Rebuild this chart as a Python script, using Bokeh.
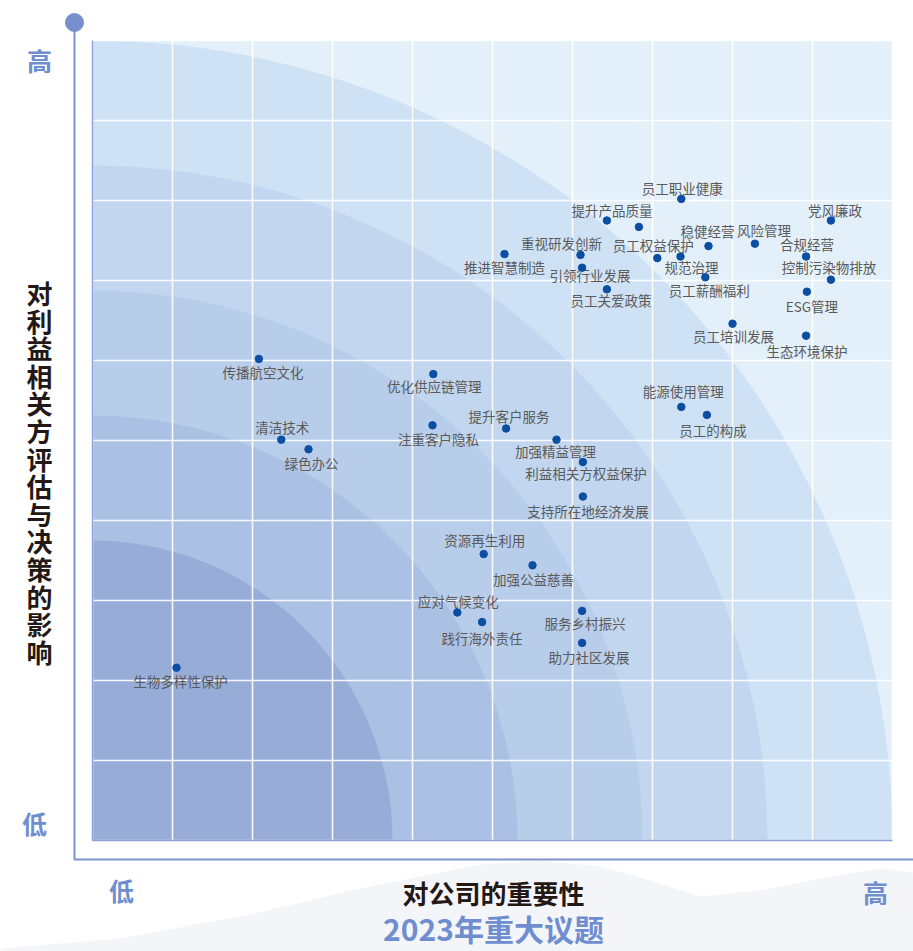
import math
from bokeh.plotting import figure
from bokeh.models import Range1d, ColumnDataSource
from bokeh.embed import file_html
from bokeh.resources import INLINE
from bokeh.core.properties import value

# ---------------- data ----------------
topics = [
    "员工职业健康", "提升产品质量", "", "党风廉政", "稳健经营", "风险管理",
    "推进智慧制造", "重视研发创新", "员工权益保护", "规范治理", "合规经营",
    "引领行业发展", "员工薪酬福利", "控制污染物排放", "员工关爱政策", "ESG管理",
    "员工培训发展", "生态环境保护", "传播航空文化", "优化供应链管理", "清洁技术",
    "注重客户隐私", "绿色办公", "能源使用管理", "员工的构成", "提升客户服务",
    "加强精益管理", "利益相关方权益保护", "支持所在地经济发展", "资源再生利用",
    "加强公益慈善", "服务乡村振兴", "应对气候变化", "践行海外责任", "助力社区发展",
    "生物多样性保护",
]
company_importance = [
    7.36, 6.43, 6.83, 9.23, 7.70, 8.28,
    5.15, 6.10, 7.06, 7.35, 8.92,
    6.12, 7.66, 9.23, 6.43, 8.93,
    8.00, 8.92, 2.08, 4.26, 2.36,
    4.25, 2.70, 7.36, 7.68, 5.17,
    5.80, 6.13, 6.13, 4.89,
    5.50, 6.12, 4.56, 4.87, 6.12,
    1.05,
]
stakeholder_impact = [
    8.02, 7.75, 7.67, 7.75, 7.43, 7.46,
    7.33, 7.32, 7.28, 7.30, 7.30,
    7.16, 7.04, 7.01, 6.89, 6.86,
    6.46, 6.31, 6.02, 5.83, 5.01,
    5.19, 4.89, 5.42, 5.32, 5.15,
    5.01, 4.73, 4.30, 3.58,
    3.44, 2.87, 2.85, 2.73, 2.47,
    2.16,
]
# label placement relative to its dot (screen pixels, y downwards)
label_dx = [1, 5, 0, 4, -1, 9, 0, -19, -4, 11, 1, 8, 4, -2, 4, 5, 1, 1, 4, 1,
            1, 6, 3, 2, 6, 3, -1, 3, 5, 1, 1, 3, 1, 0, 7, 4]
label_dy = [-11, -11, 0, -11, -15, -14, 13, -12, -13, 10, -13, 7, 13, -13, 11, 14,
            12, 15, 13, 12, -13, 14, 14, -16, 15, -13, 11, 11, 14, -14, 14, 12,
            -12, 16, 14, 13]

band_radii = [10.0, 8.4375, 6.875, 5.3125, 3.75]
band_colors = ["#cfe2f5", "#c2d7ef", "#b7cdea", "#abc1e4", "#98acd8"]
grid_ticks = list(range(0, 11))

y_title = "对利益相关方评估与决策的影响"
x_title = "对公司的重要性"
chart_title = "2023年重大议题"
low_label, high_label = "低", "高"

# ---------------- figure ----------------
p = figure(width=913, height=951,
           x_range=Range1d(-1.15, 10.2625), y_range=Range1d(-1.3875, 10.5),
           output_backend="svg", toolbar_location=None, min_border=0,
           x_axis_location=None, y_axis_location=None,
           outline_line_color=None, background_fill_color="white",
           border_fill_color="white")
p.xgrid.visible = False
p.ygrid.visible = False

# faint mountain backdrop under the axes
mx_px = [0, 120, 250, 350, 420, 480, 540, 600, 650, 700, 760, 820, 880, 913, 913, 0]
my_px = [948, 938, 914, 890, 876, 864, 860, 866, 880, 896, 890, 878, 868, 872, 951, 951]
p.patch([(v - 92) / 80 for v in mx_px], [(840 - v) / 80 for v in my_px],
        fill_color="#eff1f6", fill_alpha=0.7, line_color=None)

# plot background and concentric bands
p.quad(left=0, right=10, bottom=0, top=10, fill_color="#e3f0fa", line_color=None)
for r, c in zip(band_radii, band_colors):
    p.wedge(x=0, y=0, radius=r, start_angle=0, end_angle=math.pi / 2,
            fill_color=c, line_color=None)

# grid
p.segment(x0=grid_ticks, y0=[0] * len(grid_ticks), x1=grid_ticks, y1=[10] * len(grid_ticks),
          line_color="white", line_width=1.6, line_alpha=0.9)
p.segment(x0=[0] * len(grid_ticks), y0=grid_ticks, x1=[10] * len(grid_ticks), y1=grid_ticks,
          line_color="white", line_width=1.6, line_alpha=0.9)
p.segment(x0=[0, 0], y0=[0, 0], x1=[0, 10], y1=[10, 0],
          line_color="#8ea3d8", line_width=1.5)

# outer axis frame
ax_c = "#7b93cf"
p.line(x=[-0.225, -0.225, 10.3], y=[10.225, -0.2375, -0.2375], line_color=ax_c, line_width=2)
p.scatter(x=[-0.225], y=[10.225], size=18, color="#7590cc")

# axis texts
cjk = value("Noto Sans CJK SC")
blue = "#6f8ed0"
p.text(x=[-0.6625, -0.725, 0.3625, 9.7875], y=[9.76, 0.225, -0.615, -0.64],
       text=[high_label, low_label, low_label, high_label], text_font=cjk,
       text_font_size="25px", text_font_style="bold", text_color=blue,
       text_align="center", text_baseline="middle")
y_chars = list(y_title)
p.text(x=[-0.6625] * len(y_chars),
       y=[(840 - (292 + i * 27.6)) / 80 for i in range(len(y_chars))],
       text=y_chars, text_font=cjk,
       text_font_size="26px", text_font_style="bold", text_color="#231815",
       text_align="center", text_baseline="middle")
p.text(x=[5.0125], y=[-0.645], text=[x_title], text_font=cjk,
       text_font_size="26px", text_font_style="bold", text_color="#231815",
       text_align="center", text_baseline="middle")
p.text(x=[5.0125], y=[-1.0875], text=[chart_title], text_font=cjk,
       text_font_size="30px", text_font_style="bold", text_color=blue,
       text_align="center", text_baseline="middle")

# topics
src = ColumnDataSource(dict(x=company_importance, y=stakeholder_impact, name=topics,
                            dx=label_dx, dy=label_dy))
p.text(x="x", y="y", text="name", x_offset="dx", y_offset="dy", source=src,
       text_font=cjk, text_font_size="13.5px", text_color="#5a5a5a",
       text_align="center", text_baseline="middle")
p.scatter(x="x", y="y", source=src, size=7.5, color="#0b4ea2")

open("out.html", "w").write(file_html(p, INLINE))
